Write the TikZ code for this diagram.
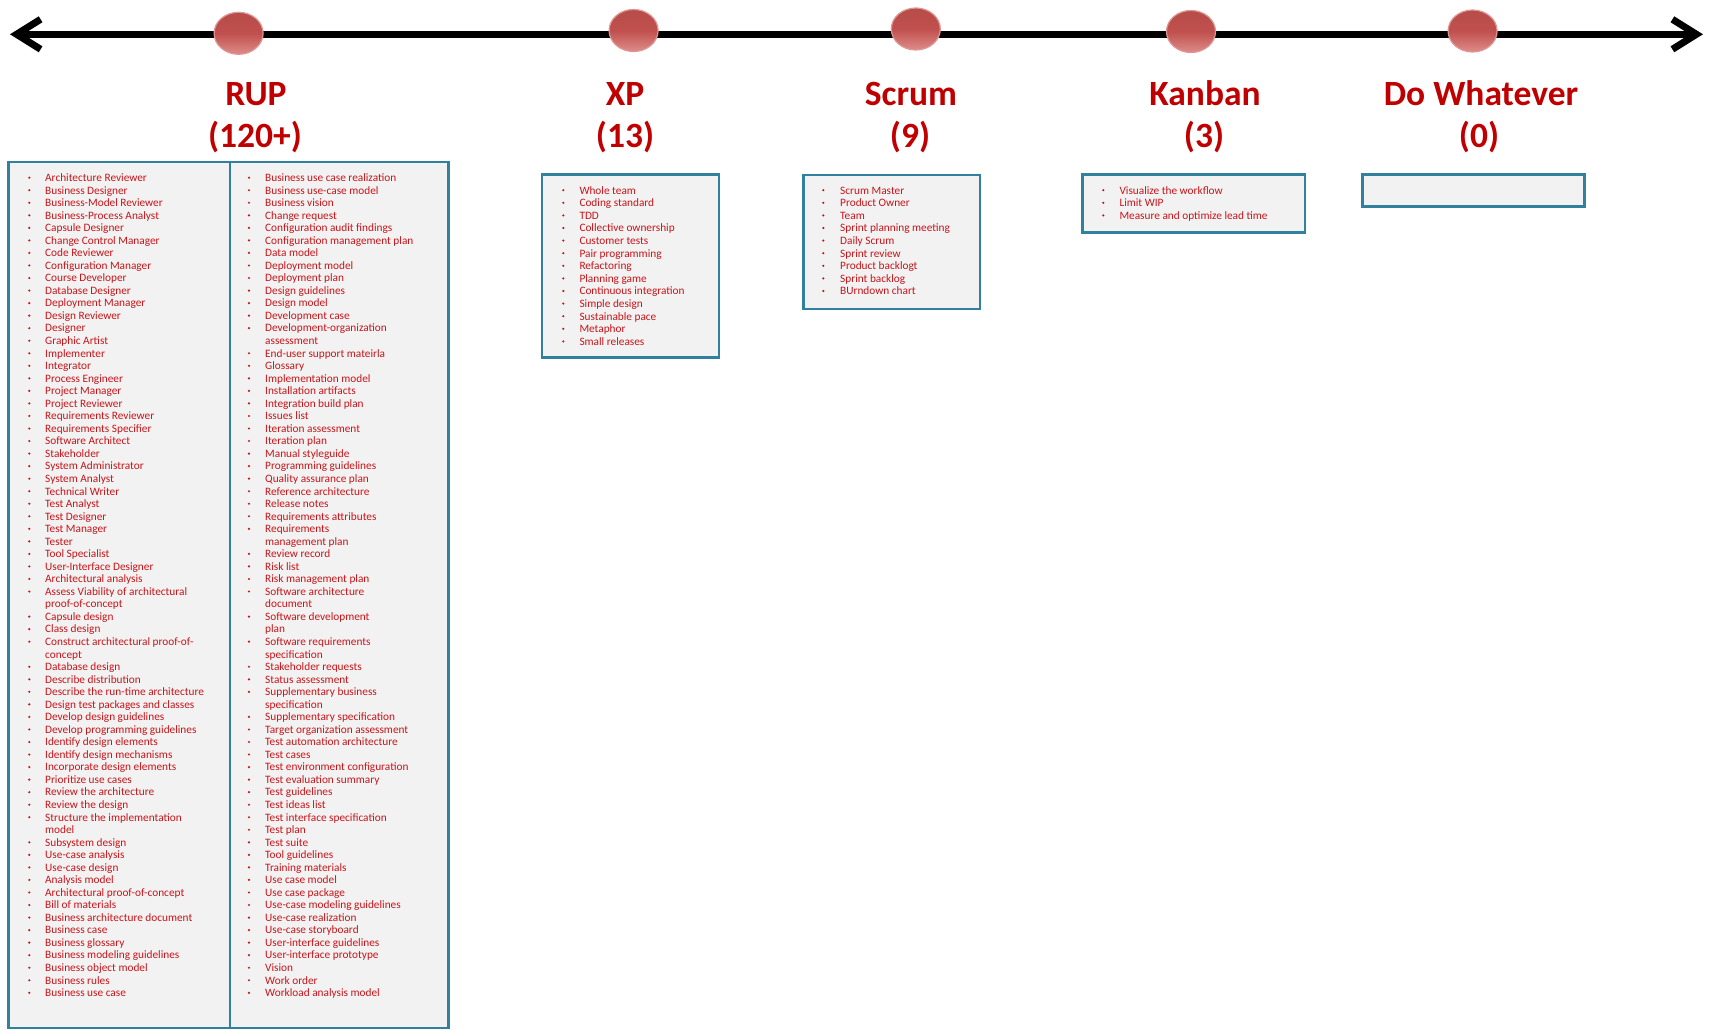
\documentclass[tikz,border=0pt]{standalone}
\usepackage{fontspec}
\setmainfont{Carlito}
\usetikzlibrary{shapes.geometric,arrows.meta}
\definecolor{boxblue}{RGB}{49,128,158}
\definecolor{boxfill}{RGB}{242,242,242}
\definecolor{darkred}{RGB}{192,0,0}
\definecolor{listred}{RGB}{200,20,25}
\definecolor{dotred}{RGB}{192,80,77}
\definecolor{dotlight}{RGB}{222,140,138}
\definecolor{dotedge}{RGB}{222,150,148}
\tikzset{
  listbox/.style={draw=boxblue, fill=boxfill, line width=2.6pt},
  itemtext/.style={anchor=base west, inner sep=0pt, text=listred, font=\fontsize{11.3}{12.5}\selectfont},
  bulletdot/.style={circle, fill=listred, inner sep=0pt, minimum size=2.4pt},
  methodtitle/.style={anchor=base, inner sep=0pt, text=darkred, font=\bfseries\fontsize{35.5}{40}\selectfont},
  timedot/.style={ellipse, minimum width=49pt, minimum height=42pt, inner sep=0pt,
    top color=dotred!95!black, bottom color=dotlight, middle color=dotred, draw=dotedge, line width=1.2pt},
  timeline/.style={line width=7pt, {Straight Barb[length=24pt,width=30pt]}-{Straight Barb[length=24pt,width=30pt]}}
}
\newcommand{\itemlist}[6]{%
  \foreach \kind/\itm [count=\i from 0] in {#6} {
    \node[itemtext] (#1-t\i) at (#3, #4+\i*#5) {\itm};
    \ifnum\kind=1\relax \node[bulletdot] (#1-b\i) at (#2, #4+\i*#5-3.8) {};\fi
  }%
}
\begin{document}
\begin{tikzpicture}[x=1pt,y=-1pt]
\useasboundingbox (0,0) rectangle (1709,1030);

% timeline
\coordinate (tl) at (10,34.3);
\coordinate (tr) at (1703,34.3);
\draw[timeline] (tl) -- (tr);
\node[timedot] (d1) at (238.6,33.3) {};
\node[timedot] (d2) at (633.6,30.5) {};
\node[timedot] (d3) at (915.8,29) {};
\node[timedot] (d4) at (1191,31.5) {};
\node[timedot] (d5) at (1472.6,31) {};

% titles
\node[methodtitle] (rup) at (256,106) {RUP};
\node[methodtitle] (rupn) at (255,148) {(120+)};
\node[methodtitle] (xp) at (625,106) {XP};
\node[methodtitle] (xpn) at (625,148) {(13)};
\node[methodtitle] (scrum) at (911,106) {Scrum};
\node[methodtitle] (scrumn) at (910,148) {(9)};
\node[methodtitle] (kanban) at (1205,106) {Kanban};
\node[methodtitle] (kanbann) at (1204,148) {(3)};
\node[methodtitle] (dow) at (1481,106) {Do Whatever};
\node[methodtitle] (down) at (1479,148) {(0)};

% boxes
\draw[listbox] (8.3,162) rectangle (230,1028);
\draw[listbox] (230,162) rectangle (448.5,1028);
\draw[listbox] (542,174.3) rectangle (719,357.7);
\draw[listbox] (803.3,175) rectangle (980,309);
\draw[listbox] (1082.3,174.3) rectangle (1305,232.7);
\draw[listbox] (1362.3,174.3) rectangle (1584.3,206.7);

% RUP left column
\itemlist{rupa}{29.3}{45}{181.5}{12.54}{1/Architecture Reviewer,1/Business Designer,1/Business-Model Reviewer,1/Business-Process Analyst,1/Capsule Designer,1/Change Control Manager,1/Code Reviewer,1/Configuration Manager,1/Course Developer,1/Database Designer,1/Deployment Manager,1/Design Reviewer,1/Designer,1/Graphic Artist,1/Implementer,1/Integrator,1/Process Engineer,1/Project Manager,1/Project Reviewer,1/Requirements Reviewer,1/Requirements Specifier,1/Software Architect,1/Stakeholder,1/System Administrator,1/System Analyst,1/Technical Writer,1/Test Analyst,1/Test Designer,1/Test Manager,1/Tester,1/Tool Specialist,1/User-Interface Designer,1/Architectural analysis,1/Assess Viability of architectural,0/proof-of-concept,1/Capsule design,1/Class design,1/Construct architectural proof-of-,0/concept,1/Database design,1/Describe distribution,1/Describe the run-time architecture,1/Design test packages and classes,1/Develop design guidelines,1/Develop programming guidelines,1/Identify design elements,1/Identify design mechanisms,1/Incorporate design elements,1/Prioritize use cases,1/Review the architecture,1/Review the design,1/Structure the implementation,0/model,1/Subsystem design,1/Use-case analysis,1/Use-case design,1/Analysis model,1/Architectural proof-of-concept,1/Bill of materials,1/Business architecture document,1/Business case,1/Business glossary,1/Business modeling guidelines,1/Business object model,1/Business rules,1/Business use case}

% RUP right column
\itemlist{rupb}{249}{265}{181.5}{12.54}{1/Business use case realization,1/Business use-case model,1/Business vision,1/Change request,1/Configuration audit findings,1/Configuration management plan,1/Data model,1/Deployment model,1/Deployment plan,1/Design guidelines,1/Design model,1/Development case,1/Development-organization,0/assessment,1/End-user support  mateirla,1/Glossary,1/Implementation model,1/Installation artifacts,1/Integration build plan,1/Issues list,1/Iteration assessment,1/Iteration plan,1/Manual styleguide,1/Programming guidelines,1/Quality assurance plan,1/Reference architecture,1/Release notes,1/Requirements attributes,1/Requirements,0/management plan,1/Review record,1/Risk list,1/Risk management plan,1/Software architecture,0/document,1/Software development,0/plan,1/Software requirements,0/specification,1/Stakeholder requests,1/Status assessment,1/Supplementary business,0/specification,1/Supplementary specification,1/Target organization assessment,1/Test automation architecture,1/Test cases,1/Test environment configuration,1/Test evaluation summary,1/Test guidelines,1/Test ideas list,1/Test interface specification,1/Test plan,1/Test suite,1/Tool guidelines,1/Training materials,1/Use case model,1/Use case package,1/Use-case modeling guidelines,1/Use-case realization,1/Use-case storyboard,1/User-interface guidelines,1/User-interface prototype,1/Vision,1/Work order,1/Workload analysis model}

% XP
\itemlist{xpl}{563.3}{579.3}{194}{12.6}{1/Whole team,1/Coding standard,1/TDD,1/Collective ownership,1/Customer tests,1/Pair programming,1/Refactoring,1/Planning game,1/Continuous integration,1/Simple design,1/Sustainable pace,1/Metaphor,1/Small releases}

% Scrum
\itemlist{scl}{823.3}{840}{194}{12.6}{1/Scrum Master,1/Product Owner,1/Team,1/Sprint planning meeting,1/Daily Scrum,1/Sprint review,1/Product backlogt,1/Sprint backlog,1/BUrndown chart}

% Kanban
\itemlist{kbl}{1103.3}{1119.3}{194}{12.6}{1/Visualize the workflow,1/Limit WIP,1/Measure and optimize lead time}
\end{tikzpicture}
\end{document}
